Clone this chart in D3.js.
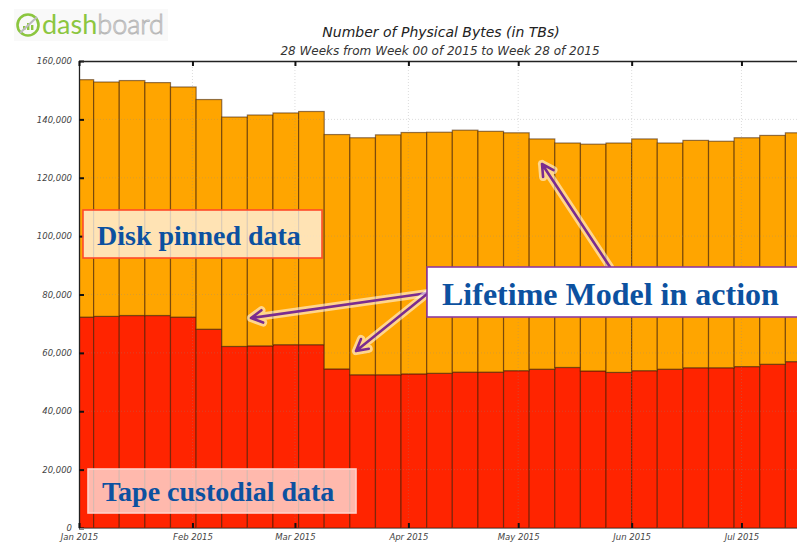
<!DOCTYPE html>
<html>
<head>
<meta charset="utf-8">
<script src="https://cdn.jsdelivr.net/npm/d3@7"></script>
<style>
  html, body { margin: 0; padding: 0; background: #fff; }
  svg { display: block; }
</style>
</head>
<body>
<svg id="chart" width="797" height="542"></svg>
<script>
// ---- data (week start dates, ISO weeks 00..28 of 2015) ----
const weeks = ["2014-12-29","2015-01-05","2015-01-12","2015-01-19","2015-01-26",
  "2015-02-02","2015-02-09","2015-02-16","2015-02-23","2015-03-02","2015-03-09",
  "2015-03-16","2015-03-23","2015-03-30","2015-04-06","2015-04-13","2015-04-20",
  "2015-04-27","2015-05-04","2015-05-11","2015-05-18","2015-05-25","2015-06-01",
  "2015-06-08","2015-06-15","2015-06-22","2015-06-29","2015-07-06","2015-07-13"];
const tapeCustodial = [72250,72500,72800,72800,72250,68100,62200,62400,62800,62800,
  54500,52500,52500,52800,53000,53400,53400,53900,54400,55000,53800,53300,53900,
  54400,54900,54900,55300,56100,57000];
const diskPinned = [81350,80300,80500,79800,78850,78700,78600,79100,79400,79900,
  80300,81200,82200,82700,82600,82900,82500,81500,78900,76900,77700,78600,79400,
  77500,77900,77600,78400,78400,78400];
const yTicks = [0,20000,40000,60000,80000,100000,120000,140000,160000];
const seriesKeys = ["tape","disk"];
const seriesColors = {tape: "#ff2400", disk: "#ffa500"};
const titleText = "Number of Physical Bytes (in TBs)";
const subtitleText = "28 Weeks from Week 00 of 2015 to Week 28 of 2015";

// ---- layout ----
const W = 797, H = 542;
const pLeft = 79, pTop = 61, pBottom = 528;
const svg = d3.select("#chart");
const parse = d3.utcParse("%Y-%m-%d");

const rows = weeks.map((w, i) => ({date: parse(w), tape: tapeCustodial[i], disk: diskPinned[i]}));

const x = d3.scaleUtc()
  .domain([parse("2015-01-01"), parse("2015-07-20")])
  .range([pLeft, pLeft + 200 * 3.66]);
const y = d3.scaleLinear().domain([0, 160000]).range([pBottom, pTop]);

const stacked = d3.stack().keys(seriesKeys)(rows);

// clip
svg.append("defs").append("clipPath").attr("id", "plotclip")
  .append("rect").attr("x", pLeft).attr("y", pTop).attr("width", W - pLeft + 20).attr("height", pBottom - pTop);

// logo
const logo = svg.append("g");
logo.append("rect").attr("x", 14).attr("y", 9).attr("width", 154).attr("height", 32)
  .attr("fill", "#f6f6f6").attr("opacity", 0.7);
logo.append("circle").attr("cx", 28).attr("cy", 25).attr("r", 10.5)
  .attr("fill", "none").attr("stroke", "#8cc63f").attr("stroke-width", 2.6);
[[-5,4],[-1,7],[3,5]].forEach(([dx,h]) => {
  logo.append("rect").attr("x", 28 + dx).attr("y", 30 - h).attr("width", 2.4).attr("height", h)
    .attr("fill", "#8cc63f");
});
logo.append("line").attr("x1", 20).attr("y1", 33).attr("x2", 37).attr("y2", 17)
  .attr("stroke", "#bbb").attr("stroke-width", 2);
const lt = logo.append("text").attr("x", 42).attr("y", 34)
  .attr("font-family", "Lato, 'Open Sans', sans-serif").attr("font-size", 27);
lt.append("tspan").text("dash").attr("fill", "#8cc63f").attr("font-weight", 400);
lt.append("tspan").text("board").attr("fill", "#f0f0f0").attr("stroke", "#b8b8b8")
  .attr("stroke-width", 0.9).attr("font-weight", 300);

// title
svg.append("text").attr("x", 441).attr("y", 37).attr("text-anchor", "middle")
  .attr("font-family", "DejaVu Sans, sans-serif").attr("font-style", "italic")
  .attr("font-size", 14).attr("fill", "#222").text(titleText);
svg.append("text").attr("x", 440).attr("y", 55).attr("text-anchor", "middle")
  .attr("font-family", "DejaVu Sans, sans-serif").attr("font-style", "italic")
  .attr("font-size", 12).attr("fill", "#333").text(subtitleText);

// bars
const plot = svg.append("g").attr("clip-path", "url(#plotclip)");
plot.selectAll("g.series").data(stacked).join("g")
  .attr("fill", d => seriesColors[d.key])
  .selectAll("rect").data(d => d).join("rect")
  .attr("x", d => x(d.data.date))
  .attr("width", d => x(d3.utcDay.offset(d.data.date, 7)) - x(d.data.date))
  .attr("y", d => y(d[1]))
  .attr("height", d => y(d[0]) - y(d[1]))
  .attr("stroke", "#3a1a00").attr("stroke-opacity", 0.55).attr("stroke-width", 1.2);

// faint dotted grid
const grid = svg.append("g").attr("clip-path", "url(#plotclip)")
  .attr("stroke", "#8a8a8a").attr("stroke-opacity", 0.3).attr("stroke-dasharray", "1,2");
grid.selectAll("line.h").data(yTicks.slice(1, -1)).join("line")
  .attr("x1", pLeft).attr("x2", W).attr("y1", d => y(d)).attr("y2", d => y(d));
grid.selectAll("line.v").data(x.ticks(d3.utcMonth.every(1)).slice(1)).join("line")
  .attr("y1", pTop).attr("y2", pBottom).attr("x1", d => x(d)).attr("x2", d => x(d));

// axes
const axisFont = g => g.selectAll("text")
  .attr("font-family", "DejaVu Sans, sans-serif").attr("font-style", "italic")
  .attr("font-size", 8.5).attr("fill", "#444");

const yAxis = svg.append("g").attr("transform", `translate(${pLeft},0)`)
  .call(d3.axisLeft(y).tickValues(yTicks).tickFormat(d3.format(",")).tickSizeInner(-5).tickSizeOuter(0).tickPadding(7))
  .call(axisFont);
yAxis.select(".domain").attr("stroke", "#222").attr("stroke-width", 1.3);
yAxis.selectAll(".tick line").attr("stroke", "#111").attr("stroke-width", 2);

const monthTicks = x.ticks(d3.utcMonth.every(1));
const xAxis = svg.append("g").attr("transform", `translate(0,${pBottom})`)
  .call(d3.axisBottom(x).tickValues(monthTicks).tickFormat(d3.utcFormat("%b %Y")).tickSizeInner(-5).tickSizeOuter(0).tickPadding(6))
  .call(axisFont);
xAxis.select(".domain").attr("stroke", "#888").attr("stroke-width", 1);
xAxis.selectAll(".tick line").attr("stroke", "#111").attr("stroke-width", 2);

const topAxis = svg.append("g").attr("transform", `translate(0,${pTop})`)
  .call(d3.axisTop(x).tickValues(monthTicks).tickFormat("").tickSizeInner(-5).tickSizeOuter(0));
topAxis.select(".domain").attr("stroke", "#222").attr("stroke-width", 1.3);
topAxis.selectAll(".tick line").attr("stroke", "#111").attr("stroke-width", 2);

// annotation boxes
const serif = "'Liberation Serif', 'Times New Roman', serif";
const blue = "#0c51a0";
function box(x0, y0, w, h, fill, op, stroke) {
  svg.append("rect").attr("x", x0).attr("y", y0).attr("width", w).attr("height", h)
    .attr("fill", fill).attr("fill-opacity", op).attr("stroke", stroke).attr("stroke-width", 1.6);
}
function label(tx, ty, size, txt) {
  svg.append("text").attr("x", tx).attr("y", ty).attr("font-family", serif)
    .attr("font-weight", "bold").attr("font-size", size).attr("fill", blue).text(txt);
}
box(83, 210, 239, 48, "#fff8f0", 0.75, "#ff4a2a");
label(97, 245, 28, "Disk pinned data");
box(88, 469, 268, 44, "#fff2f0", 0.72, "#ffd0c8");
label(102, 501, 28, "Tape custodial data");

// arrows
const purple = "#7b2c8f";
function arrow(x1, y1, x2, y2) {
  const ang = Math.atan2(y1 - y2, x1 - x2);
  const L = 13, spread = 0.5;
  const pts = [[x2 + L * Math.cos(ang + spread), y2 + L * Math.sin(ang + spread)], [x2, y2],
               [x2 + L * Math.cos(ang - spread), y2 + L * Math.sin(ang - spread)]];
  const path = `M${x1},${y1}L${x2},${y2}M${pts[0]}L${pts[1]}L${pts[2]}`;
  svg.append("path").attr("d", path).attr("fill", "none").attr("stroke", "#fff")
    .attr("stroke-opacity", 0.55).attr("stroke-width", 8).attr("stroke-linecap", "round").attr("stroke-linejoin", "round");
  svg.append("path").attr("d", path).attr("fill", "none").attr("stroke", purple)
    .attr("stroke-width", 2.6).attr("stroke-linecap", "round").attr("stroke-linejoin", "round");
}
arrow(428, 293, 251, 318);
arrow(432, 290, 356, 351);
arrow(610, 267, 542, 164);

box(427, 267, 380, 50, "#ffffff", 1, "#8e3b9e");
label(442, 305, 32, "Lifetime Model in action");
</script>
</body>
</html>
